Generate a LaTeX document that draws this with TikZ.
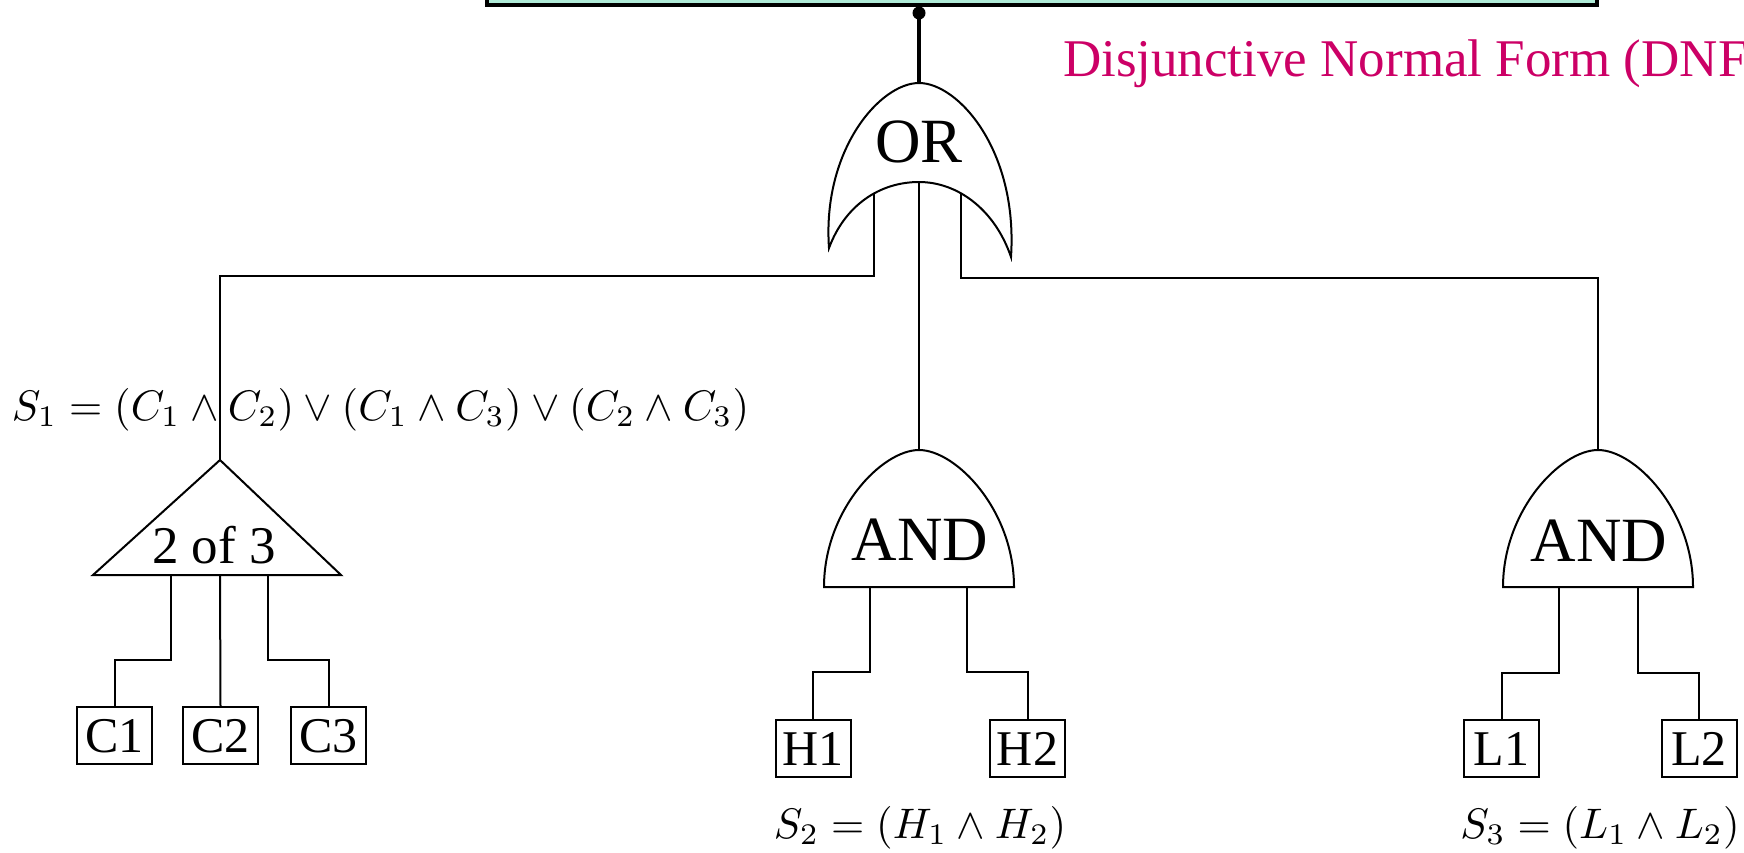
\documentclass[tikz,border=0pt]{standalone}
\usepackage{fix-cm}
\usepackage{fontspec}
\setmainfont{Liberation Serif}
\definecolor{mint}{RGB}{175,235,215}
\definecolor{dnfcol}{RGB}{204,0,102}
\newcommand{\bigmath}[1]{\scalebox{4.27}{\fontsize{10}{12}\selectfont$#1$}}
\begin{document}
\begin{tikzpicture}[x=1pt,y=-1pt,line width=2pt,
  wire/.style={line width=2pt},
  gatefill/.style={draw,fill=white,line width=2pt},
  gatelabel/.style={font=\fontsize{63}{70}\selectfont,inner sep=0pt,anchor=base},
  evbox/.style={draw,fill=white,line width=2pt,minimum width=75pt,minimum height=57pt,inner sep=0pt,
    font=\fontsize{50}{55}\selectfont,text height=34pt,text depth=0pt},
  formula/.style={inner sep=0pt}]
\useasboundingbox (0,0) rectangle (1744,852);
\clip (0,0) rectangle (1744,852);

% top event box (cut by the top edge)
\node[draw,fill=mint,line width=3.5pt,minimum width=1110pt,minimum height=60pt,inner sep=0pt] (topbox) at (1042,-25) {};
\coordinate (dot) at (919,13);
\coordinate (orTop) at (919,83);

% label
\node[anchor=base west,inner sep=0pt,text=dnfcol,font=\fontsize{53}{60}\selectfont] (dnf) at (1062,76) {Disjunctive Normal Form (DNF)};

% basic events
\node[evbox] (C1) at (114.5,735.5) {C1};
\node[evbox] (C2) at (220.5,735.5) {C2};
\node[evbox] (C3) at (328.5,735.5) {C3};
\node[evbox] (H1) at (813,748.5) {H1};
\node[evbox] (H2) at (1027.5,748.5) {H2};
\node[evbox] (L1) at (1501.5,748) {L1};
\node[evbox] (L2) at (1699,748) {L2};

% ports
\coordinate (orIL) at (874,170);
\coordinate (orIC) at (919,170);
\coordinate (orIR) at (961,170);
\coordinate (triTop) at (220,460);
\coordinate (andOneTop) at (919,450);
\coordinate (andTwoTop) at (1598,450);
\coordinate (t1) at (171,575);
\coordinate (t2) at (220,575);
\coordinate (t3) at (268,575);
\coordinate (a1L) at (870,587);
\coordinate (a1R) at (967,587);
\coordinate (a2L) at (1559,587);
\coordinate (a2R) at (1638,587);

% connectors
\draw[line width=4pt] (dot) -- (orTop);
\fill (dot) circle (6.5pt);
\draw[wire] (orIL) -- ++(0,106) -| (triTop);
\draw[wire] (orIC) -- (andOneTop);
\draw[wire] (orIR) -- ++(0,108) -| (andTwoTop);
\draw[wire] (t1) -- ++(0,85) -| (C1.north);
\draw[wire] (t2) -- (C2.north);
\draw[wire] (t3) -- ++(0,85) -| (C3.north);
\draw[wire] (a1L) -- ++(0,85) -| (H1.north);
\draw[wire] (a1R) -- ++(0,85) -| (H2.north);
\draw[wire] (a2L) -- ++(0,86) -| (L1.north);
\draw[wire] (a2R) -- ++(0,86) -| (L2.north);

% OR gate
\draw[gatefill] (829,248) .. controls (822,150) and (880,83) .. (919,83)
  .. controls (958,83) and (1018,150) .. (1011,257)
  .. controls (995,210) and (958,182) .. (919,182)
  .. controls (880,182) and (845,205) .. (829,248) -- cycle;
\node[gatelabel] (or) at (919,162) {OR};

% 2 of 3 gate
\draw[gatefill] (triTop) -- (341,575) -- (93,575) -- cycle;
\node[font=\fontsize{53}{60}\selectfont,inner sep=0pt,anchor=base] (kofn) at (214,563) {2 of 3};

% AND gates
\draw[gatefill] (824,587) .. controls (824,510) and (882,450) .. (919,450)
  .. controls (956,450) and (1014,510) .. (1014,587) -- cycle;
\node[gatelabel] (andone) at (920,560) {AND};
\begin{scope}[xshift=679pt]
\draw[gatefill] (824,587) .. controls (824,510) and (882,450) .. (919,450)
  .. controls (956,450) and (1014,510) .. (1014,587) -- cycle;
\end{scope}
\node[gatelabel] (andtwo) at (1599,561) {AND};

% formulas
\node[formula,anchor=base west] (sone) at (11,420) {\bigmath{S_1=(C_1\wedge C_2)\vee(C_1\wedge C_3)\vee(C_2\wedge C_3)}};
\node[formula,anchor=base] (stwo) at (920,838) {\bigmath{S_2=(H_1\wedge H_2)}};
\node[formula,anchor=base] (sthree) at (1600,838) {\bigmath{S_3=(L_1\wedge L_2)}};
\end{tikzpicture}
\end{document}
